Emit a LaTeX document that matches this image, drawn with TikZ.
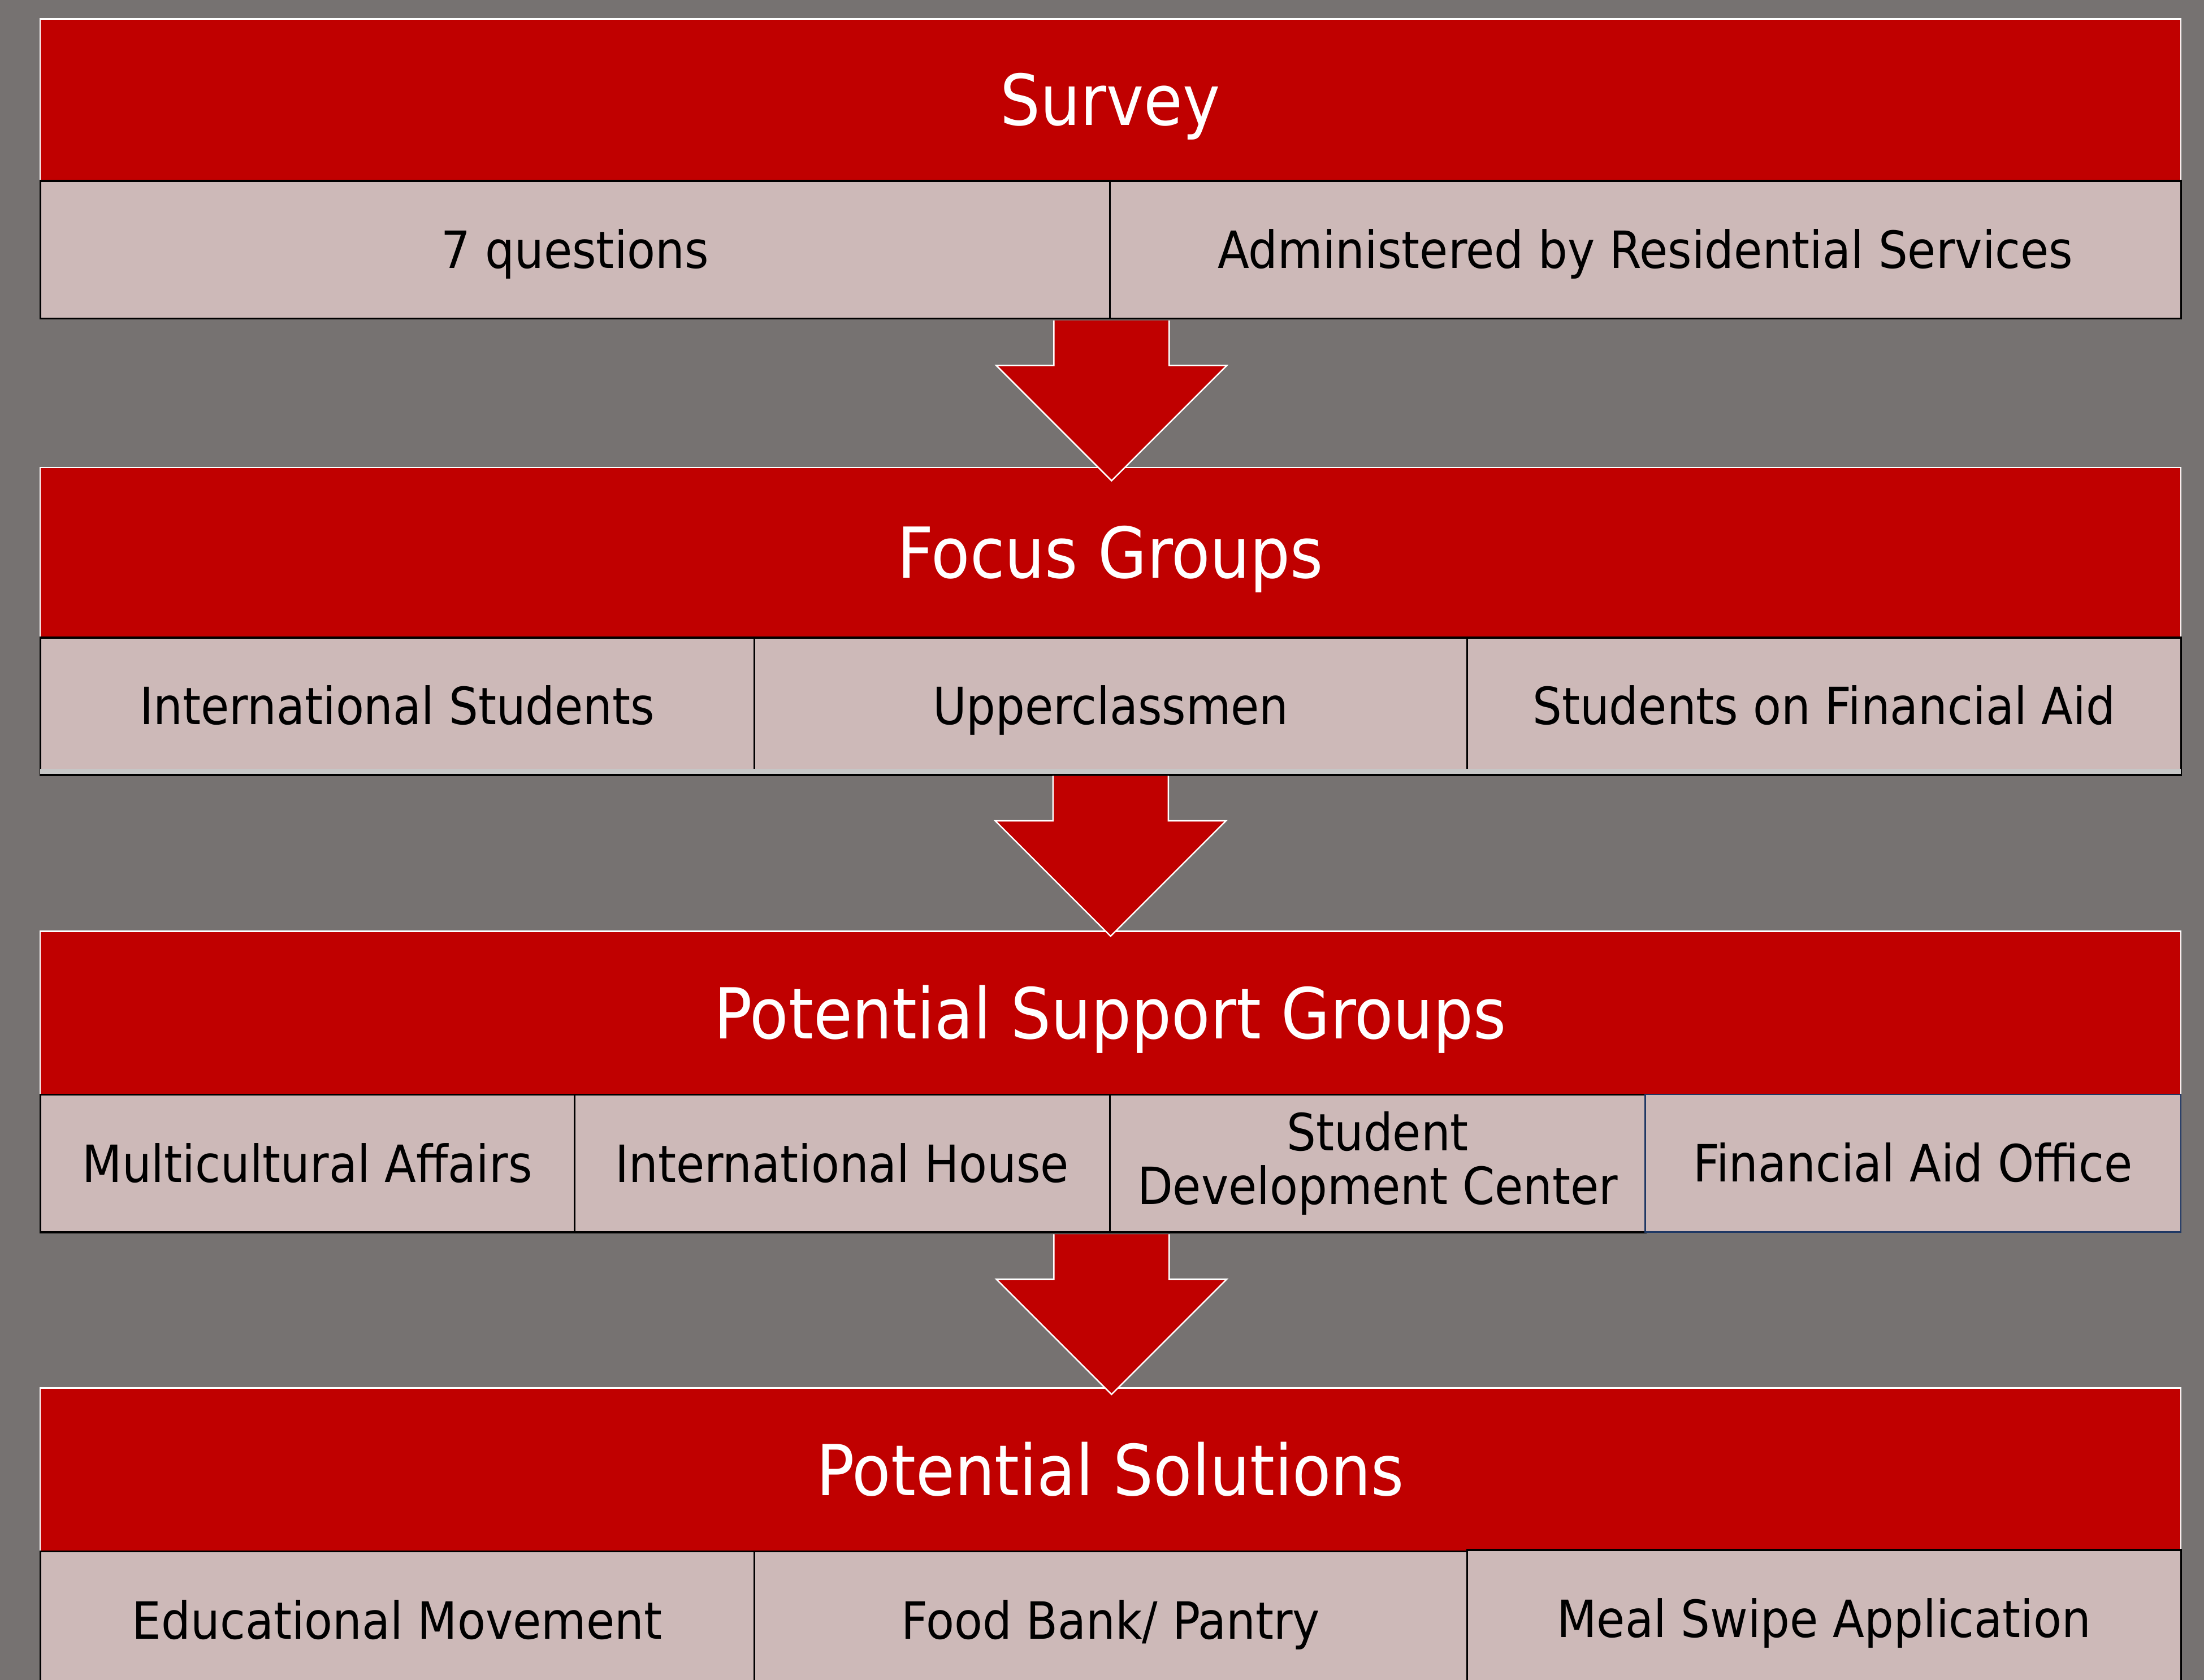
\documentclass[tikz,border=0pt]{standalone}
\usepackage{fontspec}
\setmainfont{DejaVu Sans Condensed}
\usetikzlibrary{calc}
\definecolor{bg}{HTML}{767271}
\definecolor{hdr}{HTML}{C00000}
\definecolor{cell}{HTML}{CDB9B8}
\definecolor{navy}{HTML}{1F3864}
\definecolor{band}{HTML}{C6C6C6}
\tikzset{
  hdrbox/.style={draw=white, line width=1pt, fill=hdr, text=white,
    font=\fontsize{50}{60}\selectfont, anchor=north west, inner sep=0pt,
    minimum width=1523pt, text height=36.5pt, text depth=0pt},
  cellbox/.style={draw=black, line width=1.3pt, fill=cell, text=black,
    font=\fontsize{36.5}{42}\selectfont, anchor=north west, inner sep=0pt,
    align=center, minimum height=98pt, text height=26.6pt, text depth=0pt},
  arrowfill/.style={fill=hdr},
  arrowedge/.style={draw=white, line width=1pt, line join=miter},
}
\begin{document}
\begin{tikzpicture}[x=1pt,y=-1pt]
\useasboundingbox (0,0) rectangle (1568,1195);
\clip (0,0) rectangle (1568,1195);
\fill[bg] (0,0) rectangle (1568,1195);

% Survey
\node[hdrbox, minimum height=115pt] (survey) at (28,13) {Survey};
\node[cellbox, minimum width=761pt] (s1) at (28,128) {7 questions};
\node[cellbox, minimum width=762pt] (s2) at (789,128) {Administered by Residential Services};

% Focus Groups
\node[hdrbox, minimum height=121pt] (focus) at (28,332) {Focus Groups};
\node[cellbox, minimum width=508pt, minimum height=97pt] (f1) at (28,453) {International Students};
\node[cellbox, minimum width=507pt, minimum height=97pt] (f2) at (536,453) {Upperclassmen};
\node[cellbox, minimum width=508pt, minimum height=97pt] (f3) at (1043,453) {Students on Financial Aid};
\fill[band] ($(f1.south west)+(0.7,-4.5)$) rectangle ($(f3.south east)+(-0.7,-0.7)$);
\draw[black, line width=1.3pt] (f1.south west) -- (f3.south east);

% Potential Support Groups
\node[hdrbox, minimum height=116pt] (support) at (28,662) {Potential Support Groups};
\node[cellbox, minimum width=380pt] (g1) at (28,778) {Multicultural Affairs};
\node[cellbox, minimum width=381pt] (g2) at (408,778) {International House};
\node[cellbox, minimum width=381pt, text height=, text depth=] (g3) at (789,778) {Student\\[-4pt]Development Center};
\node[cellbox, minimum width=381pt, draw=navy, line width=1pt] (g4) at (1170,778) {Financial Aid Office};

% Potential Solutions
\node[hdrbox, minimum height=116pt] (solutions) at (28,987) {Potential Solutions};
\node[cellbox, minimum width=508pt] (p1) at (28,1103) {Educational Movement};
\node[cellbox, minimum width=507pt] (p2) at (536,1103) {Food Bank/ Pantry};
\node[cellbox, minimum width=508pt] (p3) at (1043,1102) {Meal Swipe Application};

% Block arrows
\coordinate (a1) at ($(s1.south east)+(0.5,0.7)$);
\coordinate (a2) at ($(f2.south)+(0,0.7)$);
\coordinate (a3) at ($(g2.south east)+(0.5,0.7)$);
\foreach \c in {a1, a2, a3}{
  \fill[arrowfill] ($(\c)+(-41,0)$) -- ($(\c)+(-41,32)$) -- ($(\c)+(-82,32)$)
    -- ($(\c)+(0,114)$) -- ($(\c)+(82,32)$) -- ($(\c)+(41,32)$) -- ($(\c)+(41,0)$) -- cycle;
  \draw[arrowedge] ($(\c)+(-41,0)$) -- ($(\c)+(-41,32)$) -- ($(\c)+(-82,32)$)
    -- ($(\c)+(0,114)$) -- ($(\c)+(82,32)$) -- ($(\c)+(41,32)$) -- ($(\c)+(41,0)$);
}
\end{tikzpicture}
\end{document}
